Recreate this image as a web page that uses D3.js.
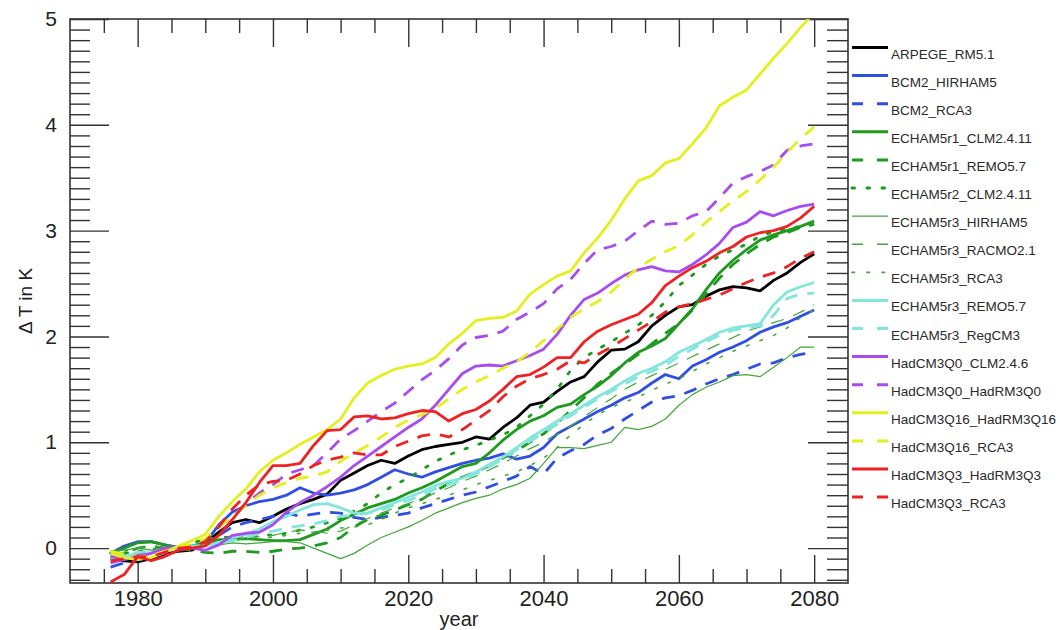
<!DOCTYPE html>
<html><head><meta charset="utf-8">
<script src="https://cdn.jsdelivr.net/npm/d3@7"></script>
<style>
body{margin:0;background:#fff;}
svg text{font-family:"Liberation Sans",Arial,Helvetica,sans-serif;}
</style></head><body>
<svg id="c" width="1060" height="630"></svg>
<script>
// ---------------- data ----------------
const years = [1976,1978,1980,1982,1984,1986,1988,1990,1992,1994,1996,1998,2000,2002,2004,2006,2008,2010,2012,2014,2016,2018,2020,2022,2024,2026,2028,2030,2032,2034,2036,2038,2040,2042,2044,2046,2048,2050,2052,2054,2056,2058,2060,2062,2064,2066,2068,2070,2072,2074,2076,2078,2080];

const seriesNames = ["ARPEGE_RM5.1","BCM2_HIRHAM5","BCM2_RCA3","ECHAM5r1_CLM2.4.11","ECHAM5r1_REMO5.7","ECHAM5r2_CLM2.4.11","ECHAM5r3_HIRHAM5","ECHAM5r3_RACMO2.1","ECHAM5r3_RCA3","ECHAM5r3_REMO5.7","ECHAM5r3_RegCM3","HadCM3Q0_CLM2.4.6","HadCM3Q0_HadRM3Q0","HadCM3Q16_HadRM3Q16","HadCM3Q16_RCA3","HadCM3Q3_HadRM3Q3","HadCM3Q3_RCA3"];

const arpegeRM51 = [-0.1,-0.12,-0.13,-0.1,-0.06,-0.03,-0.02,0.05,0.15,0.24,0.27,0.24,0.3,0.37,0.42,0.46,0.51,0.64,0.71,0.78,0.83,0.8,0.87,0.93,0.96,0.98,1.0,1.05,1.03,1.14,1.23,1.35,1.38,1.48,1.57,1.62,1.76,1.87,1.88,1.95,2.1,2.2,2.28,2.3,2.38,2.44,2.47,2.46,2.43,2.53,2.6,2.7,2.78];
const bcm2Hirham5 = [-0.05,0.02,0.06,0.06,0.03,0.01,0.0,0.05,0.22,0.34,0.4,0.44,0.46,0.5,0.57,0.52,0.5,0.52,0.55,0.6,0.67,0.74,0.7,0.67,0.72,0.76,0.8,0.83,0.85,0.89,0.84,0.87,0.95,1.08,1.15,1.22,1.29,1.35,1.42,1.47,1.56,1.64,1.6,1.72,1.78,1.85,1.9,1.96,2.04,2.09,2.13,2.19,2.25];
const bcm2Rca3 = [-0.18,-0.14,-0.11,-0.08,-0.05,-0.02,0.0,0.03,0.12,0.2,0.24,0.27,0.3,0.33,0.3,0.32,0.34,0.33,0.29,0.27,0.29,0.31,0.33,0.38,0.42,0.46,0.5,0.53,0.58,0.63,0.68,0.77,0.7,0.85,0.92,0.98,1.07,1.13,1.22,1.3,1.38,1.42,1.44,1.49,1.55,1.6,1.64,1.69,1.74,1.75,1.8,1.83,1.85];
const echam5r1Clm = [-0.05,0.0,0.05,0.06,0.03,0.0,0.02,0.05,0.08,0.08,0.09,0.08,0.07,0.07,0.08,0.13,0.18,0.26,0.32,0.38,0.42,0.46,0.52,0.57,0.63,0.7,0.77,0.8,0.9,1.02,1.12,1.2,1.25,1.33,1.36,1.45,1.53,1.63,1.75,1.85,1.91,1.98,2.12,2.26,2.44,2.6,2.72,2.82,2.91,2.96,3.0,3.04,3.09];
const echam5r1Remo = [-0.08,-0.05,0.0,0.02,0.0,0.0,-0.02,-0.04,-0.05,-0.03,-0.03,-0.04,-0.03,-0.01,0.0,0.02,0.05,0.1,0.2,0.27,0.31,0.36,0.41,0.46,0.54,0.61,0.67,0.72,0.78,0.85,0.92,1.0,1.08,1.18,1.3,1.42,1.55,1.65,1.74,1.83,1.93,2.03,2.12,2.25,2.4,2.55,2.68,2.78,2.87,2.94,2.98,3.03,3.06];
const echam5r2Clm = [-0.05,-0.05,-0.03,-0.02,0.0,0.02,0.05,0.08,0.1,0.1,0.12,0.13,0.12,0.14,0.17,0.2,0.24,0.28,0.35,0.42,0.52,0.6,0.66,0.74,0.82,0.88,0.93,0.97,1.02,1.07,1.14,1.25,1.36,1.5,1.68,1.8,1.88,1.95,2.03,2.11,2.2,2.33,2.48,2.58,2.68,2.76,2.82,2.87,2.95,2.99,3.02,3.04,3.06];
const echam5r3Hirham = [-0.03,-0.02,0.0,-0.02,0.0,0.0,0.0,0.02,0.03,0.05,0.04,0.05,0.06,0.06,0.05,0.0,-0.05,-0.1,-0.05,0.03,0.1,0.15,0.2,0.26,0.33,0.38,0.43,0.47,0.5,0.56,0.6,0.66,0.8,0.95,0.95,0.94,0.97,1.0,1.14,1.12,1.15,1.22,1.35,1.45,1.52,1.57,1.63,1.64,1.62,1.71,1.8,1.9,1.9];
const echam5r3Racmo = [-0.06,-0.04,0.0,0.02,0.01,0.0,0.02,0.05,0.08,0.1,0.1,0.11,0.12,0.15,0.17,0.16,0.14,0.16,0.22,0.28,0.33,0.38,0.42,0.47,0.52,0.57,0.63,0.68,0.74,0.8,0.87,0.94,1.0,1.08,1.15,1.24,1.33,1.41,1.5,1.57,1.63,1.69,1.75,1.81,1.87,1.93,1.99,2.05,2.09,2.13,2.17,2.23,2.3];
const echam5r3Rca3 = [-0.05,-0.03,0.0,0.0,-0.01,0.0,0.02,0.04,0.06,0.08,0.09,0.1,0.1,0.12,0.14,0.15,0.17,0.19,0.2,0.22,0.27,0.33,0.38,0.42,0.46,0.5,0.55,0.6,0.64,0.68,0.72,0.78,0.85,0.95,1.07,1.17,1.26,1.33,1.38,1.43,1.49,1.55,1.6,1.67,1.74,1.8,1.86,1.91,1.96,2.01,2.08,2.18,2.25];
const echam5r3Remo = [-0.1,-0.08,-0.05,-0.04,-0.02,0.0,0.02,0.02,0.05,0.1,0.13,0.18,0.25,0.3,0.36,0.41,0.42,0.38,0.33,0.33,0.38,0.43,0.48,0.53,0.59,0.63,0.66,0.72,0.79,0.86,0.95,1.04,1.12,1.2,1.27,1.35,1.43,1.5,1.58,1.65,1.7,1.76,1.85,1.91,1.97,2.04,2.08,2.1,2.12,2.3,2.42,2.47,2.51];
const echam5r3RegCM3 = [-0.08,-0.07,-0.04,-0.03,-0.02,0.0,0.01,0.02,0.04,0.07,0.1,0.14,0.16,0.19,0.21,0.23,0.26,0.3,0.31,0.33,0.36,0.41,0.45,0.5,0.56,0.6,0.64,0.7,0.77,0.84,0.93,1.01,1.09,1.17,1.25,1.33,1.41,1.48,1.55,1.62,1.67,1.73,1.81,1.88,1.95,2.01,2.06,2.08,2.1,2.2,2.36,2.4,2.41];
const hadQ0Clm = [-0.14,-0.11,-0.08,-0.05,0.0,0.01,0.0,-0.02,0.03,0.12,0.14,0.15,0.22,0.34,0.43,0.5,0.58,0.67,0.78,0.87,0.96,1.05,1.14,1.22,1.35,1.5,1.65,1.72,1.73,1.72,1.77,1.82,1.88,2.02,2.2,2.35,2.41,2.5,2.58,2.63,2.66,2.62,2.61,2.68,2.77,2.88,3.03,3.08,3.18,3.14,3.19,3.23,3.25];
const hadQ0HadRM = [-0.08,-0.1,-0.07,-0.05,-0.02,0.0,0.03,0.08,0.2,0.3,0.42,0.52,0.6,0.7,0.74,0.78,0.9,1.03,1.11,1.2,1.29,1.37,1.48,1.59,1.68,1.79,1.92,1.99,2.01,2.05,2.16,2.23,2.31,2.45,2.54,2.69,2.82,2.85,2.9,3.0,3.09,3.06,3.07,3.14,3.18,3.31,3.45,3.51,3.56,3.62,3.76,3.8,3.82];
const hadQ16HadRM = [-0.05,-0.09,-0.11,-0.09,-0.04,0.02,0.07,0.13,0.3,0.44,0.56,0.72,0.83,0.9,0.98,1.05,1.12,1.22,1.42,1.56,1.63,1.69,1.72,1.74,1.8,1.93,2.03,2.15,2.17,2.18,2.24,2.4,2.49,2.57,2.62,2.79,2.93,3.1,3.3,3.47,3.52,3.64,3.68,3.82,3.97,4.18,4.26,4.33,4.48,4.63,4.77,4.92,5.06];
const hadQ16Rca3 = [-0.03,-0.06,-0.08,-0.07,-0.03,0.0,0.04,0.09,0.2,0.3,0.4,0.5,0.57,0.62,0.66,0.68,0.72,0.82,0.9,0.97,1.05,1.14,1.21,1.26,1.32,1.41,1.5,1.57,1.63,1.7,1.76,1.85,1.96,2.07,2.18,2.26,2.33,2.42,2.54,2.65,2.73,2.8,2.86,2.96,3.08,3.18,3.28,3.37,3.48,3.6,3.74,3.87,3.98];
const hadQ3HadRM = [-0.32,-0.25,-0.08,-0.12,-0.08,-0.02,0.0,0.02,0.12,0.27,0.43,0.62,0.78,0.78,0.8,0.97,1.11,1.12,1.24,1.25,1.22,1.23,1.27,1.3,1.29,1.2,1.27,1.31,1.39,1.5,1.62,1.64,1.71,1.8,1.8,1.95,2.05,2.11,2.16,2.21,2.32,2.48,2.57,2.65,2.71,2.79,2.85,2.94,2.98,3.0,3.04,3.12,3.23];
const hadQ3Rca3 = [-0.12,-0.1,-0.08,-0.08,-0.04,0.0,0.01,0.06,0.2,0.37,0.5,0.6,0.63,0.64,0.7,0.78,0.83,0.86,0.9,0.88,0.88,0.96,1.01,1.06,1.08,1.05,1.12,1.21,1.3,1.43,1.53,1.6,1.64,1.69,1.77,1.75,1.83,1.9,1.98,2.06,2.14,2.23,2.28,2.31,2.35,2.39,2.45,2.51,2.56,2.6,2.66,2.74,2.8];

const xMajorTicks = [1980,2000,2020,2040,2060,2080];
const yMajorTicks = [0,1,2,3,4,5];

// ---------------- styles ----------------
const seriesValues = [arpegeRM51,bcm2Hirham5,bcm2Rca3,echam5r1Clm,echam5r1Remo,echam5r2Clm,echam5r3Hirham,echam5r3Racmo,echam5r3Rca3,echam5r3Remo,echam5r3RegCM3,hadQ0Clm,hadQ0HadRM,hadQ16HadRM,hadQ16Rca3,hadQ3HadRM,hadQ3Rca3];
const C = {black:"#000000",blue:"#2f4fe3",green:"#1e9a1e",lgreen:"#43a73a",cyan:"#82e6dc",purple:"#a84cf0",yellow:"#e4ef1e",red:"#ee2222"};
const styles = [
  {c:C.black,t:"solid",w:2.8},{c:C.blue,t:"solid",w:2.8},{c:C.blue,t:"dash",w:2.8},
  {c:C.green,t:"solid",w:2.8},{c:C.green,t:"dash",w:2.8},{c:C.green,t:"dot",w:2.8},
  {c:C.lgreen,t:"solid",w:1.2},{c:C.lgreen,t:"dash",w:1.2},{c:C.lgreen,t:"dot",w:1.6},
  {c:C.cyan,t:"solid",w:2.8},{c:C.cyan,t:"dash",w:2.8},
  {c:C.purple,t:"solid",w:2.8},{c:C.purple,t:"dash",w:2.8},
  {c:C.yellow,t:"solid",w:2.8},{c:C.yellow,t:"dash",w:2.8},
  {c:C.red,t:"solid",w:2.8},{c:C.red,t:"dash",w:2.8}
];
const plotDash = {solid:null,dash:"13,10",dot:"2.5,12"};
const legDash = {solid:null,dash:"11,14",dot:"2.5,12.5"};

// ---------------- chart ----------------
const svg = d3.select("#c");
const L=70,R=848,T=19,B=583;
const x = d3.scaleLinear().domain([1970,2085]).range([L,R]);
const y = d3.scaleLinear().domain([-0.33,5.0]).range([B,T]);
const tickCol="#333";

svg.append("defs").append("clipPath").attr("id","clip")
  .append("rect").attr("x",L).attr("y",T).attr("width",R-L).attr("height",B-T);

const xMinor = d3.range(1975,2085,5).filter(v=>!xMajorTicks.includes(v));
const yMinor = d3.range(-3,50,1).map(v=>v/10).filter(v=>!yMajorTicks.includes(v));

function styleAxis(g){ g.select(".domain").remove(); g.selectAll("line").attr("stroke",tickCol).attr("stroke-width",1.4); }

// bottom
svg.append("g").attr("transform",`translate(0,${B})`)
  .call(d3.axisBottom(x).tickValues(xMinor).tickSize(-14).tickFormat("")).call(styleAxis);
const bx = svg.append("g").attr("transform",`translate(0,${B})`)
  .call(d3.axisBottom(x).tickValues(xMajorTicks).tickSize(-28).tickPadding(7).tickFormat(d3.format("d"))).call(styleAxis);
bx.selectAll("text").attr("font-size",22).attr("fill","#222");
// top
svg.append("g").attr("transform",`translate(0,${T})`)
  .call(d3.axisTop(x).tickValues(xMinor).tickSize(-14).tickFormat("")).call(styleAxis);
svg.append("g").attr("transform",`translate(0,${T})`)
  .call(d3.axisTop(x).tickValues(xMajorTicks).tickSize(-28).tickFormat("")).call(styleAxis);
// left
svg.append("g").attr("transform",`translate(${L},0)`)
  .call(d3.axisLeft(y).tickValues(yMinor).tickSize(-20).tickFormat("")).call(styleAxis);
const ly = svg.append("g").attr("transform",`translate(${L},0)`)
  .call(d3.axisLeft(y).tickValues(yMajorTicks).tickSize(-39).tickPadding(13).tickFormat(d3.format("d"))).call(styleAxis);
ly.selectAll("text").attr("font-size",21).attr("fill","#222");
// right
svg.append("g").attr("transform",`translate(${R},0)`)
  .call(d3.axisRight(y).tickValues(yMinor).tickSize(-21).tickFormat("")).call(styleAxis);
svg.append("g").attr("transform",`translate(${R},0)`)
  .call(d3.axisRight(y).tickValues(yMajorTicks).tickSize(-40).tickFormat("")).call(styleAxis);

// frame
svg.append("rect").attr("x",L).attr("y",T).attr("width",R-L).attr("height",B-T)
  .attr("fill","none").attr("stroke",tickCol).attr("stroke-width",1.6);

// lines
const line = d3.line().x((d,i)=>x(years[i])).y(d=>y(d));
const gl = svg.append("g").attr("clip-path","url(#clip)");
seriesValues.forEach((vals,k)=>{
  const s = styles[k];
  gl.append("path").datum(vals).attr("d",line)
    .attr("fill","none").attr("stroke",s.c).attr("stroke-width",s.w)
    .attr("stroke-linejoin","round")
    .attr("stroke-linecap", s.t==="dot"?"round":"butt")
    .attr("stroke-dasharray",plotDash[s.t]);
});

// axis titles
svg.append("text").attr("x",(L+R)/2).attr("y",626).attr("text-anchor","middle")
  .attr("font-size",20).attr("fill","#222").text("year");
svg.append("text").attr("transform",`translate(32,${(T+B)/2}) rotate(-90)`)
  .attr("text-anchor","middle").attr("font-size",19).attr("fill","#222").text("Δ T in K");

// legend
const lg = svg.append("g");
seriesNames.forEach((name,i)=>{
  const s = styles[i];
  const ry = 47.5 + i*28.1;
  lg.append("line").attr("x1",852).attr("x2",888).attr("y1",ry).attr("y2",ry)
    .attr("stroke",s.c).attr("stroke-width",s.w+0.2)
    .attr("stroke-linecap", s.t==="dot"?"round":"butt")
    .attr("stroke-dasharray",legDash[s.t]);
  lg.append("text").attr("x",891).attr("y",ry+11).attr("font-size",13.5)
    .attr("fill","#2a2a2a").text(name);
});
</script>
</body></html>
